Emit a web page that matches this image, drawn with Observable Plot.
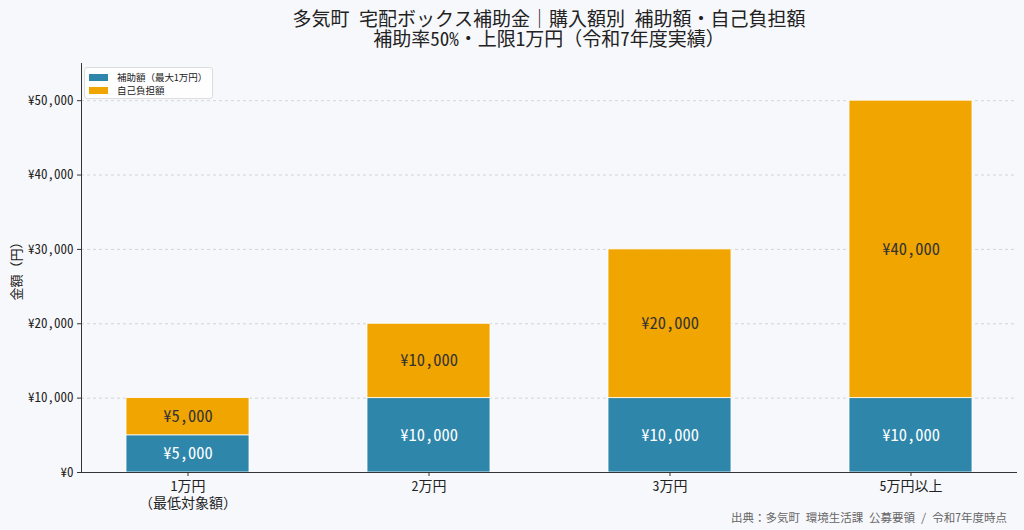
<!DOCTYPE html>
<html><head><meta charset="utf-8">
<script src="https://cdn.jsdelivr.net/npm/d3@7"></script>
<script src="https://cdn.jsdelivr.net/npm/@observablehq/plot@0.6"></script>
<style>
body{margin:0;background:#f7f8fc;font-family:"Noto Sans Mono CJK JP","Noto Sans CJK JP","DejaVu Sans Mono",sans-serif;}
#wrap{position:relative;width:1024px;height:530px;overflow:hidden;background:#f7f8fc;}
.tline{position:absolute;left:81px;width:936px;text-align:center;font-size:19px;line-height:20px;height:20px;color:#222;white-space:nowrap;}
#chart{position:absolute;left:0;top:52px;}
#ylabel{position:absolute;left:15px;top:268px;transform:translate(-50%,-50%) rotate(-90deg);font-size:13px;color:#222;white-space:nowrap;}
#legend{position:absolute;left:84px;top:67px;width:127px;height:30px;border:1px solid #ddd;border-radius:3px;background:rgba(255,255,255,0.85);font-size:9.5px;color:#222;}
#legend .row{position:absolute;left:4px;height:12px;display:flex;align-items:center;}
#legend .sw{width:19px;height:7px;margin-right:9px;}
#footer{position:absolute;right:17px;top:509px;font-size:11.5px;color:#666;white-space:nowrap;}
</style></head>
<body>
<div id="wrap">
  <div id="chart"></div>
  <div id="ylabel"></div>
  <div id="legend"></div>
  <div id="footer"></div>
</div>
<script>
const titleLines = ["多気町 宅配ボックス補助金｜購入額別 補助額・自己負担額", "補助率50%・上限1万円（令和7年度実績）"];
const categories = ["1万円\n（最低対象額）", "2万円", "3万円", "5万円以上"];
const subsidy = [5000, 10000, 10000, 10000];
const selfPay = [5000, 10000, 20000, 40000];
const seriesNames = ["補助額（最大1万円）", "自己負担額"];
const seriesColors = ["#2E86AB", "#F0A500"];
const yTicks = [0, 10000, 20000, 30000, 40000, 50000];
const yLabel = "金額（円）";
const footerText = "出典：多気町 環境生活課 公募要領 / 令和7年度時点";

const fmt = d => "¥" + d3.format(",")(d);
const FONT = '"Noto Sans Mono CJK JP","Noto Sans CJK JP","DejaVu Sans Mono",sans-serif';

const wrap = document.getElementById("wrap");
titleLines.forEach((t, i) => {
  const d = document.createElement("div");
  d.className = "tline";
  d.style.top = (8 + i * 20) + "px";
  d.textContent = t;
  wrap.appendChild(d);
});
document.getElementById("ylabel").textContent = yLabel;
document.getElementById("footer").textContent = footerText;
const lg = document.getElementById("legend");
seriesNames.forEach((s, i) => {
  const r = document.createElement("div");
  r.className = "row";
  r.style.top = (3 + i * 13) + "px";
  r.innerHTML = `<span class="sw" style="background:${seriesColors[i]}"></span><span>${s}</span>`;
  lg.appendChild(r);
});

const rows = [];
categories.forEach((c, i) => {
  rows.push({cat: c, series: seriesNames[0], value: subsidy[i]});
  rows.push({cat: c, series: seriesNames[1], value: selfPay[i]});
});
const lowLabels = categories.map((c, i) => ({cat: c, mid: subsidy[i] / 2, text: fmt(subsidy[i])}));
const highLabels = categories.map((c, i) => ({cat: c, mid: subsidy[i] + selfPay[i] / 2, text: fmt(selfPay[i])}));

const chart = Plot.plot({
  width: 1024, height: 462,
  marginLeft: 81, marginRight: 7, marginTop: 11, marginBottom: 42,
  style: {background: "transparent", fontFamily: FONT, color: "#222"},
  x: {domain: categories, paddingInner: 0.488, paddingOuter: 0.178, label: null},
  y: {domain: [0, 55000], label: null},
  color: {domain: seriesNames, range: seriesColors},
  marks: [
    Plot.gridY(yTicks.slice(1), {stroke: "#ccc", strokeOpacity: 1, strokeDasharray: "3,3", strokeWidth: 0.8}),
    Plot.barY(rows, {x: "cat", y: "value", fill: "series", order: seriesNames, stroke: "white", strokeWidth: 0.8}),
    Plot.text(lowLabels, {x: "cat", y: "mid", text: "text", fill: "white", fontSize: 16.5}),
    Plot.text(highLabels, {x: "cat", y: "mid", text: "text", fill: "#333", fontSize: 16.5}),
    Plot.axisY({ticks: yTicks, tickFormat: fmt, tickSize: 4, tickPadding: 4, fontSize: 13, label: null, stroke: "#333"}),
    Plot.axisX({tickSize: 4, tickPadding: 3, fontSize: 14, lineHeight: 1.2, label: null, stroke: "#333"}),
    Plot.ruleY([0], {stroke: "#333", strokeWidth: 1}),
    Plot.frame({anchor: "left", stroke: "#333", strokeWidth: 1})
  ]
});
document.getElementById("chart").appendChild(chart);
</script>
</body></html>
